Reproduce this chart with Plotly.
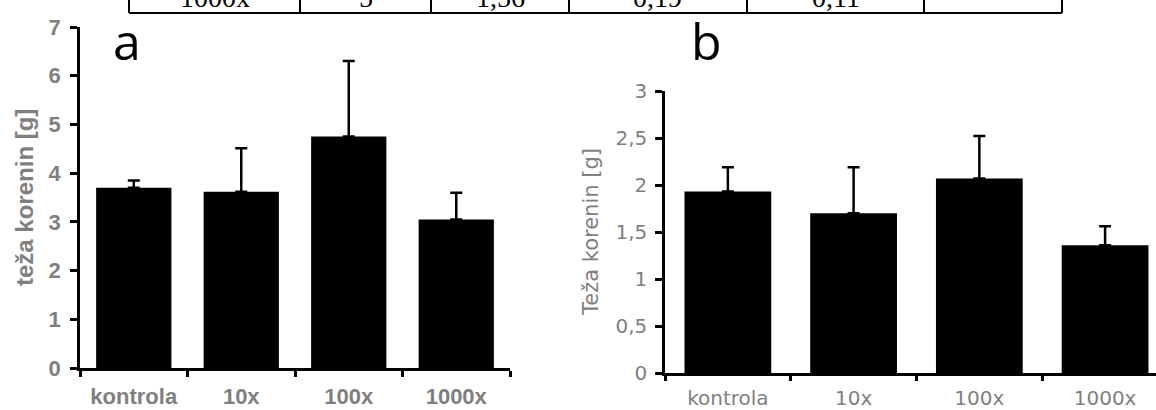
import plotly.graph_objects as go

# ---------------- data ----------------
categories = ["kontrola", "10x", "100x", "1000x"]

mass_a = [3.70, 3.62, 4.75, 3.05]
err_a = [0.15, 0.89, 1.55, 0.55]

mass_b = [1.93, 1.70, 2.07, 1.36]
err_b = [0.26, 0.49, 0.45, 0.20]

yticks_a = [0, 1, 2, 3, 4, 5, 6, 7]
yticklabels_a = ["0", "1", "2", "3", "4", "5", "6", "7"]
yticks_b = [0, 0.5, 1, 1.5, 2, 2.5, 3]
yticklabels_b = ["0", "0,5", "1", "1,5", "2", "2,5", "3"]

ytitle_a = "teža korenin [g]"
ytitle_b = "Teža korenin [g]"
panel_labels = ["a", "b"]

table_row = ["1000x", "5", "1,56", "0,19", "0,11", ""]

# ---------------- layout helpers ----------------
W, H = 1156, 410


def px(x):
    return x / W


def py(y):
    return 1 - y / H


GRAY = "#7f7f7f"
fig = go.Figure()

fig.add_trace(go.Bar(
    x=categories, y=mass_a, width=0.70,
    marker=dict(color="black", line=dict(width=0)),
    error_y=dict(type="data", symmetric=False, array=err_a,
                 arrayminus=[0] * len(err_a), color="black",
                 thickness=2.5, width=6),
    xaxis="x", yaxis="y", showlegend=False,
))
fig.add_trace(go.Bar(
    x=categories, y=mass_b, width=0.69,
    marker=dict(color="black", line=dict(width=0)),
    error_y=dict(type="data", symmetric=False, array=err_b,
                 arrayminus=[0] * len(err_b), color="black",
                 thickness=2.5, width=6),
    xaxis="x2", yaxis="y2", showlegend=False,
))

font_a = dict(family="Liberation Sans, Arial, sans-serif", size=22,
              color=GRAY, weight="bold")
font_b = dict(family="DejaVu Sans, sans-serif", size=20, color=GRAY)

common_axis = dict(showgrid=False, zeroline=False, showline=True,
                   linecolor="black", ticks="outside", tickcolor="black",
                   fixedrange=True, automargin=False)

layout = dict(
    width=W, height=H,
    margin=dict(l=0, r=0, t=0, b=0, pad=0, autoexpand=False),
    paper_bgcolor="white", plot_bgcolor="white",
    showlegend=False,
    xaxis=dict(**common_axis, domain=[px(80), px(510)], anchor="y",
               type="category", range=[-0.5, 3.5], tickson="boundaries",
               linewidth=2.5, ticklen=6, tickwidth=2.5,
               tickfont=font_a, ticklabelstandoff=7),
    yaxis=dict(**common_axis, domain=[py(368), py(27)], anchor="x",
               range=[0, 7], tickvals=yticks_a, ticktext=yticklabels_a,
               linewidth=2.5, ticklen=7, tickwidth=2.5,
               tickfont=font_a, ticklabelstandoff=5),
    xaxis2=dict(**common_axis, domain=[px(665), 1.0], anchor="y2",
                type="category", range=[-0.5, 3.405], tickson="boundaries",
                linewidth=2.5, ticklen=5, tickwidth=2.5,
                tickfont=font_b, ticklabelstandoff=5),
    yaxis2=dict(**common_axis, domain=[py(373), py(91)], anchor="x2",
                range=[0, 3], tickvals=yticks_b, ticktext=yticklabels_b,
                linewidth=2.5, ticklen=7, tickwidth=2.5,
                tickfont=font_b, ticklabelstandoff=4),
)
fig.update_layout(**layout)

annotations = []
# y-axis titles
annotations.append(dict(text=ytitle_a, x=px(24), y=py(198), xref="paper",
                        yref="paper", textangle=-90, showarrow=False,
                        xanchor="center", yanchor="middle",
                        font=dict(font_a, size=24)))
annotations.append(dict(text=ytitle_b, x=px(591), y=py(232), xref="paper",
                        yref="paper", textangle=-90, showarrow=False,
                        xanchor="center", yanchor="middle",
                        font=dict(font_b, size=21)))
# panel letters
for lab, cx in zip(panel_labels, [127, 706]):
    annotations.append(dict(text=lab, x=px(cx), y=py(41), xref="paper",
                            yref="paper", showarrow=False,
                            xanchor="center", yanchor="middle",
                            font=dict(family="Open Sans, sans-serif",
                                      size=50, color="black")))

# table fragment at the top
col_edges = [129, 300, 431, 569, 747, 924, 1062]
for i, txt in enumerate(table_row):
    cx = (col_edges[i] + col_edges[i + 1]) / 2
    if txt:
        annotations.append(dict(text=txt, x=px(cx), y=py(15), xref="paper",
                                yref="paper", showarrow=False,
                                xanchor="center", yanchor="bottom",
                                font=dict(family="Liberation Serif, serif",
                                          size=28, color="black")))
fig.update_layout(annotations=annotations)

shapes = [dict(type="line", xref="paper", yref="paper",
               x0=px(col_edges[0]), x1=px(col_edges[-1]),
               y0=py(13), y1=py(13), line=dict(color="black", width=2))]
for xe in col_edges:
    shapes.append(dict(type="line", xref="paper", yref="paper",
                       x0=px(xe), x1=px(xe), y0=py(-5), y1=py(13),
                       line=dict(color="black", width=2)))
fig.update_layout(shapes=shapes)

fig.write_html("out.html",
               config={"displayModeBar": False},
               post_script="document.body.style.margin='0';document.body.style.overflow='hidden';")
